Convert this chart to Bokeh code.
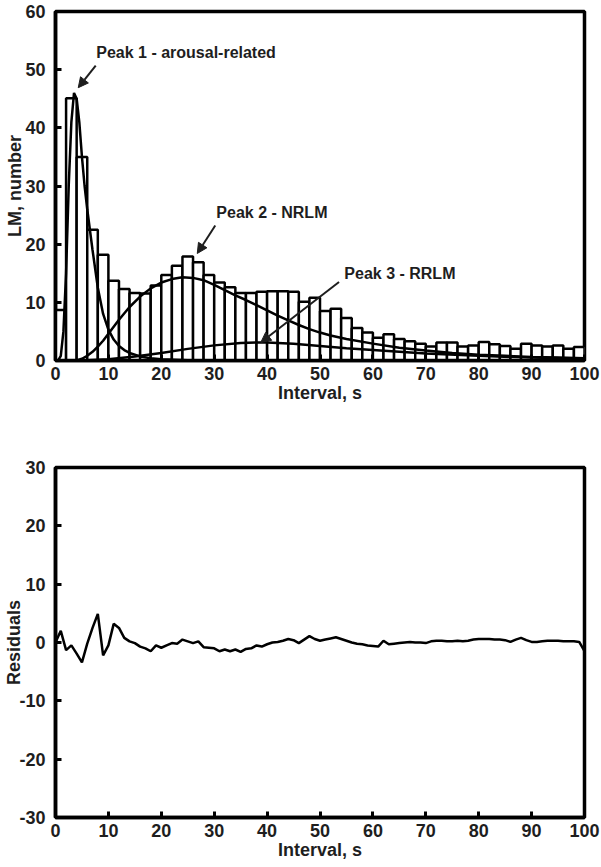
from bokeh.plotting import figure
from bokeh.layouts import column
from bokeh.models import Range1d, Label, Arrow, NormalHead, FixedTicker
from bokeh.embed import file_html
from bokeh.resources import INLINE

# ---------------- data ----------------
bin_left = list(range(0, 100, 2))
bin_right = [b + 2 for b in bin_left]
counts = [8.7, 45.1, 35.0, 22.5, 18.2, 13.7, 12.3, 11.6, 11.5, 12.9,
          14.7, 16.3, 17.9, 16.9, 14.7, 13.4, 12.6, 11.6, 11.6, 11.8,
          11.9, 11.9, 11.8, 10.1, 10.8, 8.5, 8.9, 7.3, 5.6, 4.8,
          3.9, 4.5, 3.7, 3.3, 2.9, 2.4, 3.1, 3.1, 2.4, 2.6,
          3.2, 2.8, 2.5, 2.0, 2.9, 2.6, 2.4, 2.6, 2.0, 2.3]

peak1_x = [0.5, 1, 1.5, 2, 2.5, 3, 3.5, 4, 4.5, 5, 5.5, 6, 7, 8, 9, 10, 11, 12,
           13, 14, 16, 18, 20, 25, 30, 100]
peak1_y = [0, 0.8, 5, 15, 30, 41, 46, 45, 41, 35, 30, 26, 19, 12.5, 8, 5.3, 3.6,
           2.5, 1.8, 1.3, 0.7, 0.4, 0.2, 0.05, 0, 0]

peak2_x = [4, 5, 6, 7, 8, 9, 10, 12, 14, 16, 18, 20, 22, 24, 26, 28, 30, 32, 34,
           36, 38, 40, 42, 44, 46, 48, 50, 52, 55, 60, 65, 70, 75, 80, 85, 90, 95, 100]
peak2_y = [0, 0.3, 0.8, 1.5, 2.4, 3.4, 4.6, 7.0, 9.2, 11.0, 12.4, 13.4, 14.0, 14.3,
           14.2, 13.8, 13.0, 12.1, 11.2, 10.4, 9.5, 8.6, 7.7, 6.9, 6.1, 5.4, 4.8,
           4.3, 3.7, 2.9, 2.2, 1.7, 1.3, 1.0, 0.8, 0.6, 0.5, 0.4]

peak3_x = [5, 10, 15, 20, 25, 30, 35, 38, 40, 45, 50, 55, 60, 65, 70, 80, 90, 100]
peak3_y = [0, 0.2, 0.7, 1.3, 2.0, 2.6, 3.0, 3.1, 3.1, 2.9, 2.5, 2.1, 1.8, 1.5,
           1.2, 0.8, 0.5, 0.3]

resid_x = list(range(0, 101))
resid_y = [0.0, 2.0, -1.3, -0.5, -1.9, -3.4, -0.2, 2.5, 4.9, -2.2,
           -0.5, 3.2, 2.5, 0.8, 0.2, -0.1, -0.7, -1.0, -1.5, -0.5,
           -0.9, -0.5, -0.1, -0.2, 0.5, 0.2, -0.1, 0.2, -0.8, -0.9,
           -1.0, -1.5, -1.2, -1.5, -1.2, -1.6, -1.1, -1.0, -0.5, -0.7,
           -0.3, 0.0, 0.1, 0.3, 0.6, 0.4, -0.1, 0.5, 1.1, 0.6,
           0.3, 0.5, 0.7, 0.9, 0.6, 0.3, 0.0, -0.2, -0.3, -0.5,
           -0.6, -0.7, 0.3, -0.3, -0.2, -0.1, 0.0, 0.1, 0.0, 0.0,
           -0.1, 0.2, 0.3, 0.3, 0.2, 0.2, 0.3, 0.2, 0.3, 0.5,
           0.6, 0.6, 0.6, 0.5, 0.5, 0.4, 0.1, 0.5, 0.8, 0.4,
           0.1, 0.1, 0.2, 0.3, 0.3, 0.3, 0.2, 0.2, 0.2, 0.1,
           -1.5]

x_ticks = [0, 10, 20, 30, 40, 50, 60, 70, 80, 90, 100]
y_ticks_top = [0, 10, 20, 30, 40, 50, 60]
y_ticks_bot = [-30, -20, -10, 0, 10, 20, 30]
y_tick_labels_bot = ["-30", "-20", "-10", "0", "10", "20", "30"]

ann_text = ["Peak 1 - arousal-related", "Peak 2 - NRLM", "Peak 3 - RRLM"]
ann_text_x = [7.7, 30.4, 54.6]
ann_text_y = [52.9, 25.4, 15.0]
arr_x0 = [7.6, 30.2, 53.6]
arr_y0 = [50.7, 23.2, 13.5]
arr_x1 = [4.3, 26.8, 38.8]
arr_y1 = [46.9, 18.4, 3.1]

FONT = "Liberation Sans"
INK = "#1e1e1e"


def style(p, yticks, ylabel, ylab_standoff):
    p.grid.visible = False
    p.outline_line_color = "black"
    p.outline_line_width = 3.5
    p.outline_line_alpha = 1
    for ax in (p.xaxis[0], p.yaxis[0]):
        ax.axis_line_width = 3.5
        ax.major_tick_in = 6
        ax.major_tick_out = 0
        ax.major_tick_line_width = 3
        ax.minor_tick_line_color = None
        ax.major_label_text_font = FONT
        ax.major_label_text_font_style = "bold"
        ax.major_label_text_font_size = "18px"
        ax.major_label_text_color = INK
        ax.axis_label_text_font = FONT
        ax.axis_label_text_font_style = "bold"
        ax.axis_label_text_font_size = "18px"
        ax.axis_label_text_color = INK
    p.xaxis.ticker = FixedTicker(ticks=x_ticks)
    p.yaxis.ticker = FixedTicker(ticks=yticks)
    p.xaxis.axis_label = "Interval, s"
    p.yaxis.axis_label = ylabel
    p.xaxis.major_label_standoff = 6
    p.xaxis.axis_label_standoff = 0
    p.yaxis.major_label_standoff = 10
    p.yaxis.axis_label_standoff = ylab_standoff


p1 = figure(width=601, height=412, output_backend="svg", toolbar_location=None,
            x_range=Range1d(0, 100), y_range=Range1d(0, 60),
            min_border_left=55, min_border_right=17, min_border_top=11,
            min_border_bottom=52)
style(p1, y_ticks_top, "LM, number", -3)

p1.quad(left=bin_left, right=bin_right, top=counts, bottom=0,
        fill_color="white", line_color="black", line_width=2.5)
p1.line(peak1_x, peak1_y, line_color="black", line_width=2.5)
p1.line(peak2_x, peak2_y, line_color="black", line_width=2.5)
p1.line(peak3_x, peak3_y, line_color="black", line_width=2.5)

for t, tx, ty, x0, y0, x1, y1 in zip(ann_text, ann_text_x, ann_text_y,
                                     arr_x0, arr_y0, arr_x1, arr_y1):
    p1.add_layout(Label(x=tx, y=ty, text=t, text_font=FONT,
                        text_font_style="bold", text_font_size="16px",
                        text_color=INK, text_baseline="middle",
                        text_align="left"))
    p1.add_layout(Arrow(x_start=x0, y_start=y0, x_end=x1, y_end=y1,
                        line_width=2, line_color=INK,
                        end=NormalHead(size=10, line_color=INK,
                                       fill_color=INK, line_width=1)))

p2 = figure(width=601, height=455, output_backend="svg", toolbar_location=None,
            x_range=Range1d(0, 100), y_range=Range1d(-30, 30),
            min_border_left=55, min_border_right=17, min_border_top=55,
            min_border_bottom=50)
style(p2, y_ticks_bot, "Residuals", -8)
p2.yaxis.major_label_overrides = dict(zip(y_ticks_bot, y_tick_labels_bot))
p2.line(resid_x, resid_y, line_color="black", line_width=2.5)

layout = column(p1, p2, spacing=0)
open("out.html", "w").write(file_html(layout, INLINE))
